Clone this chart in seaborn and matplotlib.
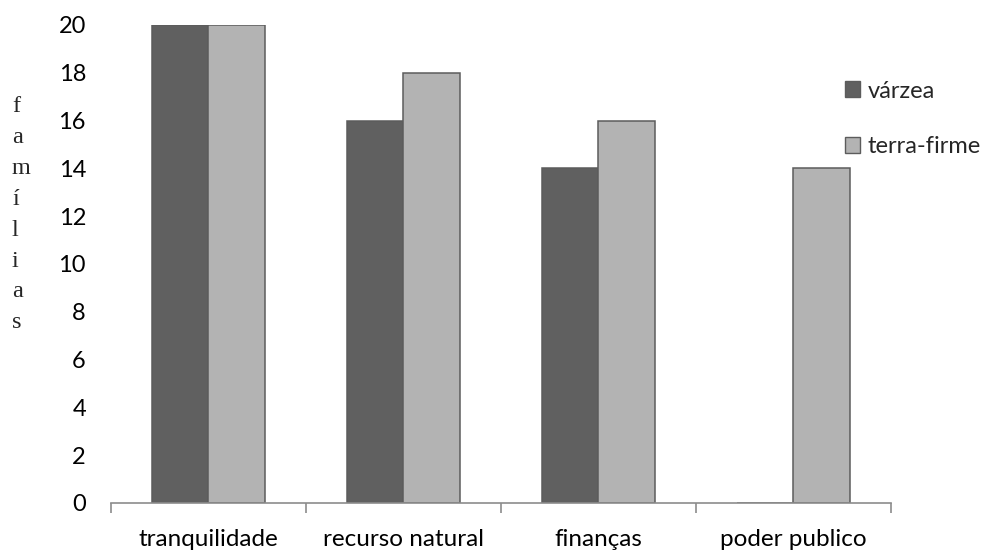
import matplotlib
matplotlib.use("Agg")
import matplotlib.pyplot as plt
import seaborn as sns
import pandas as pd
from matplotlib.patches import Patch

categories = ["tranquilidade", "recurso natural", "finanças", "poder publico"]
series_names = ["várzea", "terra-firme"]
varzea = [20, 16, 14, 0]
terra_firme = [20, 18, 16, 14]
y_ticks = [0, 2, 4, 6, 8, 10, 12, 14, 16, 18, 20]
y_title = "famílias"

df = pd.DataFrame({
    "categoria": categories * 2,
    "grupo": [series_names[0]] * len(categories) + [series_names[1]] * len(categories),
    "familias": varzea + terra_firme,
})

sns.set_theme(style="white")
plt.rcParams["font.family"] = ["Lato", "DejaVu Sans"]

colors = {"várzea": "#606060", "terra-firme": "#b3b3b3"}
edge = "#5c5c5c"
axis_gray = "#8c8c8c"
fs = 17

W, H = 988, 550
fig = plt.figure(figsize=(W / 100, H / 100), dpi=100)
ax = fig.add_axes([0.1123, 0.0855, 0.7895, 0.8691])

sns.barplot(data=df, x="categoria", y="familias", hue="grupo",
            hue_order=series_names, order=categories, palette=colors,
            width=0.575, edgecolor=edge, linewidth=1.1, ax=ax, legend=False)

ax.set_ylim(0, 20)
ax.set_xlim(-0.5, len(categories) - 0.5)
ax.set_yticks(y_ticks)
ax.set_yticklabels([str(t) for t in y_ticks], fontsize=fs, color="#000000")
ax.tick_params(axis="y", length=0, pad=18)

ax.set_xticks(range(len(categories)))
ax.set_xticklabels(categories, fontsize=17.5, color="#000000")
ax.set_xticks([i - 0.5 for i in range(len(categories) + 1)], minor=True)
ax.tick_params(axis="x", which="major", length=0, pad=18.5)
ax.tick_params(axis="x", which="minor", length=7, width=1.2, color=axis_gray,
               direction="out", bottom=True)
ax.set_xlabel("")
ax.set_ylabel("")

for side in ["top", "right", "left"]:
    ax.spines[side].set_visible(False)
ax.spines["bottom"].set_color(axis_gray)
ax.spines["bottom"].set_linewidth(1.2)
ax.grid(False)

handles = [Patch(facecolor=colors[n], edgecolor=edge, label=n) for n in series_names]
fig.legend(handles=handles, loc="center left", bbox_to_anchor=(0.855, 0.784),
           frameon=False, fontsize=fs, handlelength=0.66, handleheight=0.66,
           handletextpad=0.3, labelspacing=1.45, borderaxespad=0, borderpad=0)

# vertical title: one letter per line, stacked down the left margin
first_baseline, step = 112, 30.9
for i, ch in enumerate(y_title):
    fig.text(12 / W, 1 - (first_baseline + i * step) / H, ch,
             family=["Liberation Serif", "DejaVu Serif"], fontsize=17.5,
             ha="left", va="baseline")

fig.savefig("out.png", dpi=100)
